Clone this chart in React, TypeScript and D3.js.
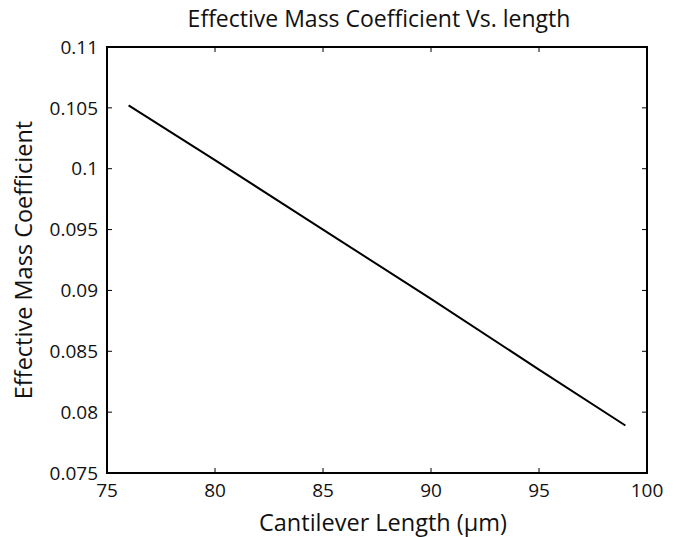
import * as d3 from "d3";
import React, { useEffect, useRef } from "react";

// lengths in um and the effective mass coefficient
const lengths = [76, 80, 85, 90, 95, 99];
const coefficients = [0.1052, 0.1007, 0.095, 0.0893, 0.0835, 0.0789];
const xTicks = [75, 80, 85, 90, 95, 100];
const yTicks = [0.075, 0.08, 0.085, 0.09, 0.095, 0.1, 0.105, 0.11];

const W = 679;
const H = 537;
const FONT = "'Open Sans', 'Noto Sans', sans-serif";

export default function App() {
  const svgRef = useRef<SVGSVGElement>(null);

  useEffect(() => {
    const svg = d3.select(svgRef.current);
    svg.selectAll("*").remove();

    const left = 107, right = 647, top = 47, bottom = 473;
    const x = d3.scaleLinear().domain([75, 100]).range([left, right]);
    const y = d3.scaleLinear().domain([0.075, 0.11]).range([bottom, top]);

    // ticks point inward on all four sides, like matplotlib
    const tickLen = 5;
    const g = svg.append("g");
    xTicks.forEach((t) => {
      g.append("line").attr("x1", x(t)).attr("x2", x(t)).attr("y1", bottom).attr("y2", bottom - tickLen)
        .attr("stroke", "#000").attr("stroke-width", 1);
      g.append("line").attr("x1", x(t)).attr("x2", x(t)).attr("y1", top).attr("y2", top + tickLen)
        .attr("stroke", "#000").attr("stroke-width", 1);
      g.append("text").attr("x", x(t)).attr("y", bottom + 24).attr("text-anchor", "middle")
        .attr("font-family", FONT).attr("font-size", 19).attr("fill", "#111").text(String(t));
    });
    yTicks.forEach((t) => {
      g.append("line").attr("x1", left).attr("x2", left + tickLen).attr("y1", y(t)).attr("y2", y(t))
        .attr("stroke", "#000").attr("stroke-width", 1);
      g.append("line").attr("x1", right).attr("x2", right - tickLen).attr("y1", y(t)).attr("y2", y(t))
        .attr("stroke", "#000").attr("stroke-width", 1);
      g.append("text").attr("x", left - 9).attr("y", y(t)).attr("dy", "0.35em").attr("text-anchor", "end")
        .attr("font-family", FONT).attr("font-size", 19).attr("fill", "#111").text(d3.format("")(t));
    });

    const myLine = d3.line<number>()
      .x((_, i) => x(lengths[i]))
      .y((v) => y(v));
    svg.append("path").datum(coefficients).attr("d", myLine).attr("fill", "none")
      .attr("stroke", "#000").attr("stroke-width", 2);

    svg.append("rect").attr("x", left).attr("y", top).attr("width", right - left).attr("height", bottom - top)
      .attr("fill", "none").attr("stroke", "#000").attr("stroke-width", 2);

    svg.append("text").attr("x", 379).attr("y", 27).attr("text-anchor", "middle")
      .attr("font-family", FONT).attr("font-size", 23).attr("fill", "#111")
      .text("Effective Mass Coefficient Vs. length");
    svg.append("text").attr("x", 383).attr("y", 531).attr("text-anchor", "middle")
      .attr("font-family", FONT).attr("font-size", 23.5).attr("fill", "#111")
      .text("Cantilever Length (\u03bcm)");
    svg.append("text").attr("transform", `translate(32,${(top + bottom) / 2}) rotate(-90)`)
      .attr("text-anchor", "middle").attr("font-family", FONT).attr("font-size", 23.5).attr("fill", "#111")
      .text("Effective Mass Coefficient");
  }, []);

  return (
    <svg ref={svgRef} width={W} height={H} viewBox={`0 0 ${W} ${H}`}
      style={{ position: "absolute", left: 0, top: 0, background: "#fff" }} />
  );
}
